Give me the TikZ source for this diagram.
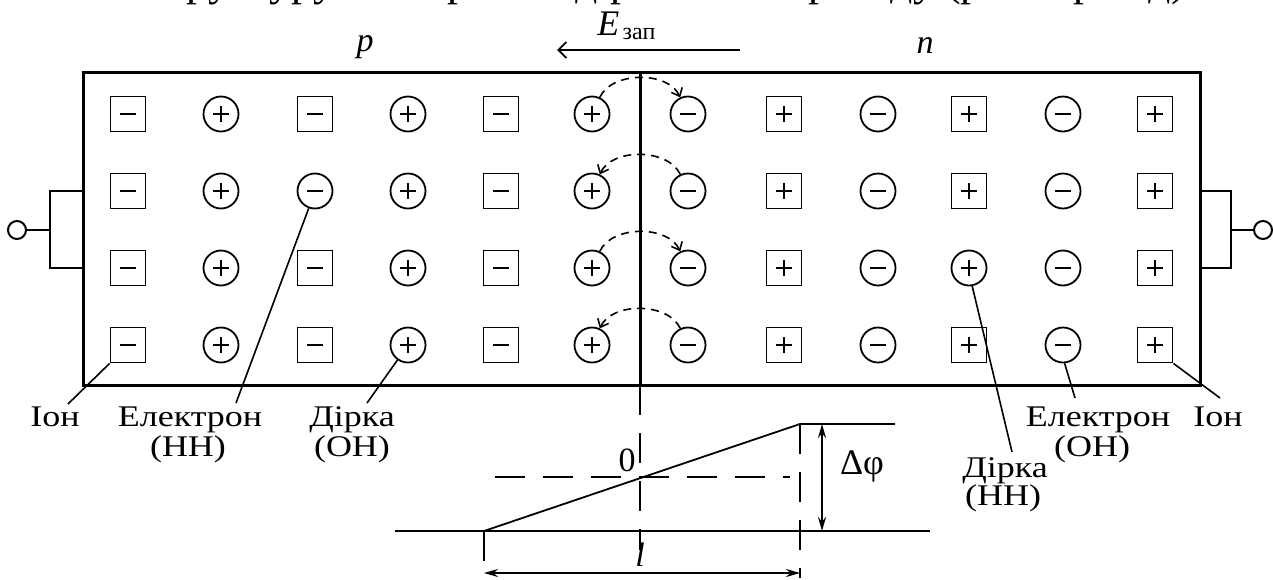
\documentclass[tikz,border=0pt]{standalone}
\usepackage{fontspec}
\setmainfont{Liberation Serif}
\newfontfamily\widefont[FakeStretch=1.2]{Liberation Serif}
\usetikzlibrary{arrows.meta}
\begin{document}
\begin{tikzpicture}[x=0.5pt,y=-0.5pt,
  sym/.style={draw, line width=0.9pt, minimum size=17.5pt, inner sep=0pt},
  minussign/.style={path picture={\draw[line width=0.8pt]
     ([xshift=-3.8pt]path picture bounding box.center) -- ([xshift=3.8pt]path picture bounding box.center);}},
  plussign/.style={path picture={\draw[line width=0.8pt]
     ([xshift=-3.8pt]path picture bounding box.center) -- ([xshift=3.8pt]path picture bounding box.center)
     ([yshift=-3.8pt]path picture bounding box.center) -- ([yshift=3.8pt]path picture bounding box.center);}},
  symm/.style={sym, rectangle, minussign},
  symp/.style={sym, rectangle, plussign},
  syme/.style={sym, circle, minussign},
  symh/.style={sym, circle, plussign},
  arcst/.style={line width=0.8pt, dash pattern=on 4pt off 3pt, -{Straight Barb[length=3.5pt,width=6pt]}},
  frame/.style={line width=1.5pt},
  wire/.style={line width=1.1pt},
  thinl/.style={line width=0.9pt},
  bigdash/.style={line width=1.2pt, dash pattern=on 15pt off 9pt},
  leader/.style={line width=0.8pt},
  dim/.style={line width=0.9pt, {Stealth[length=7pt,width=4pt]}-{Stealth[length=7pt,width=4pt]}},
  lbl/.style={font=\widefont\fontsize{15}{18}\selectfont, anchor=base, inner sep=0pt},
  ital/.style={font=\fontsize{17}{20}\selectfont\itshape, inner sep=0pt}
]
\useasboundingbox (0,0) rectangle (1273,579);

% cut-off title line
\begin{scope}
\clip (0,0) rectangle (1273,579);
\node[font=\fontsize{22}{24}\selectfont, anchor=base, inner sep=0pt] (title) at (662,-5)
  {Структуру електронно-діркового переходу (р-n перехід)};
\end{scope}

% field label and arrow
\node[anchor=base west, inner sep=0pt] (Elbl) at (597,35)
  {{\fontsize{18}{18}\selectfont\itshape E}\,{\fontsize{12}{12}\selectfont\raisebox{-2pt}{зап}}};
\coordinate (Estart) at (740,50);
\coordinate (Eend) at (557,50);
\draw[line width=0.9pt, -{Straight Barb[length=4pt,width=8pt]}] (Estart) -- (Eend);

\node[ital] (plbl) at (365,47) {p};
\node[ital] (nlbl) at (925,45) {n};

% crystal
\draw[frame] (83,72) rectangle (1200,385);
\coordinate (jtop) at (640,72);
\coordinate (jbot) at (640,385);
\draw[frame] (jtop) -- (jbot);

% charges
\foreach \row/\yy/\types in {
  1/114/{m,h,m,h,m,h,e,p,e,p,e,p},
  2/191/{m,h,e,h,m,h,e,p,e,p,e,p},
  3/268/{m,h,m,h,m,h,e,p,e,h,e,p},
  4/345/{m,h,m,h,m,h,e,p,e,p,e,p}} {
  \foreach \t [count=\c] in \types {
    \pgfmathsetmacro\xx{{128,221,315,408,501,592,688,784,878,969,1063,1155}[\c-1]}
    \node[sym\t] (r\row-\c) at (\xx,\yy) {};
  }
}

% dashed transitions
\draw[arcst] (r1-6.65) .. controls (612,71) and (668,71) .. (r1-7.115);
\draw[arcst] (r2-7.115) .. controls (668,148) and (612,148) .. (r2-6.65);
\draw[arcst] (r3-6.65) .. controls (612,225) and (668,225) .. (r3-7.115);
\draw[arcst] (r4-7.115) .. controls (668,302) and (612,302) .. (r4-6.65);

% terminals
\node[draw, circle, line width=1pt, minimum size=9pt, inner sep=0pt] (termL) at (17,230) {};
\node[draw, circle, line width=1pt, minimum size=9pt, inner sep=0pt] (termR) at (1263,230) {};
\coordinate (bl1) at (83,191); \coordinate (bl2) at (50,191);
\coordinate (bl3) at (50,268); \coordinate (bl4) at (83,268);
\coordinate (blm) at (50,230);
\draw[wire] (bl1) -- (bl2) -- (bl3) -- (bl4);
\draw[wire] (blm) -- (termL);
\coordinate (br1) at (1200,191); \coordinate (br2) at (1231,191);
\coordinate (br3) at (1231,268); \coordinate (br4) at (1200,268);
\coordinate (brm) at (1231,230);
\draw[wire] (br1) -- (br2) -- (br3) -- (br4);
\draw[wire] (brm) -- (termR);

% labels
\node[lbl] (ionL) at (55,426) {Іон};
\node[lbl] (elL) at (190,426) {Електрон};
\node[lbl] (elL2) at (188,456) {(НН)};
\node[lbl] (hoL) at (352,426) {Дірка};
\node[lbl] (hoL2) at (352,456) {(ОН)};
\node[lbl] (elR) at (1098,426) {Електрон};
\node[lbl] (elR2) at (1092,456) {(ОН)};
\node[lbl] (ionR) at (1218,426) {Іон};
\node[lbl] (hoR) at (1005,477) {Дірка};
\node[lbl] (hoR2) at (1003,505) {(НН)};

\coordinate (ionLend) at (68,404);
\coordinate (elLend) at (236,403);
\coordinate (hoLend) at (367,403);
\coordinate (hoRend) at (1012,452);
\coordinate (elRend) at (1075,398);
\coordinate (ionRend) at (1220,398);
\draw[leader] (r4-1.south west) -- (ionLend);
\draw[leader] (r2-3.250) -- (elLend);
\draw[leader] (r4-4.235) -- (hoLend);
\draw[leader] (r3-10.280) -- (hoRend);
\draw[leader] (r4-11.275) -- (elRend);
\draw[leader] (r4-12.south east) -- (ionRend);

% potential diagram
\coordinate (lowL) at (395,531);
\coordinate (lowR) at (930,531);
\coordinate (rampA) at (484,531);
\coordinate (rampB) at (800,424);
\coordinate (upR) at (895,424);
\coordinate (midL) at (495,477);
\coordinate (midR) at (790,477);
\coordinate (cdash) at (640,550);
\coordinate (ldash) at (484,578);
\coordinate (rdash) at (800,578);
\coordinate (dimL) at (484,573);
\coordinate (dimR) at (800,573);
\coordinate (dphT) at (822,424);
\coordinate (dphB) at (822,531);
\draw[thinl] (lowL) -- (lowR);
\draw[thinl] (rampA) -- (rampB) -- (upR);
\draw[bigdash] (midL) -- (midR);
\draw[bigdash] (jbot) -- (cdash);
\draw[bigdash] (rampB) -- (rdash);
\draw[bigdash] (rampA) -- (ldash);
\draw[dim] (dimL) -- (dimR);
\draw[dim] (dphT) -- (dphB);
\node[font=\fontsize{17}{20}\selectfont, inner sep=0pt] (zero) at (627,460) {0};
\node[font=\fontsize{18}{20}\selectfont, inner sep=0pt] (dphi) at (862,466) {Δφ};
\node[ital] (llbl) at (640,555) {l};
\end{tikzpicture}
\end{document}
